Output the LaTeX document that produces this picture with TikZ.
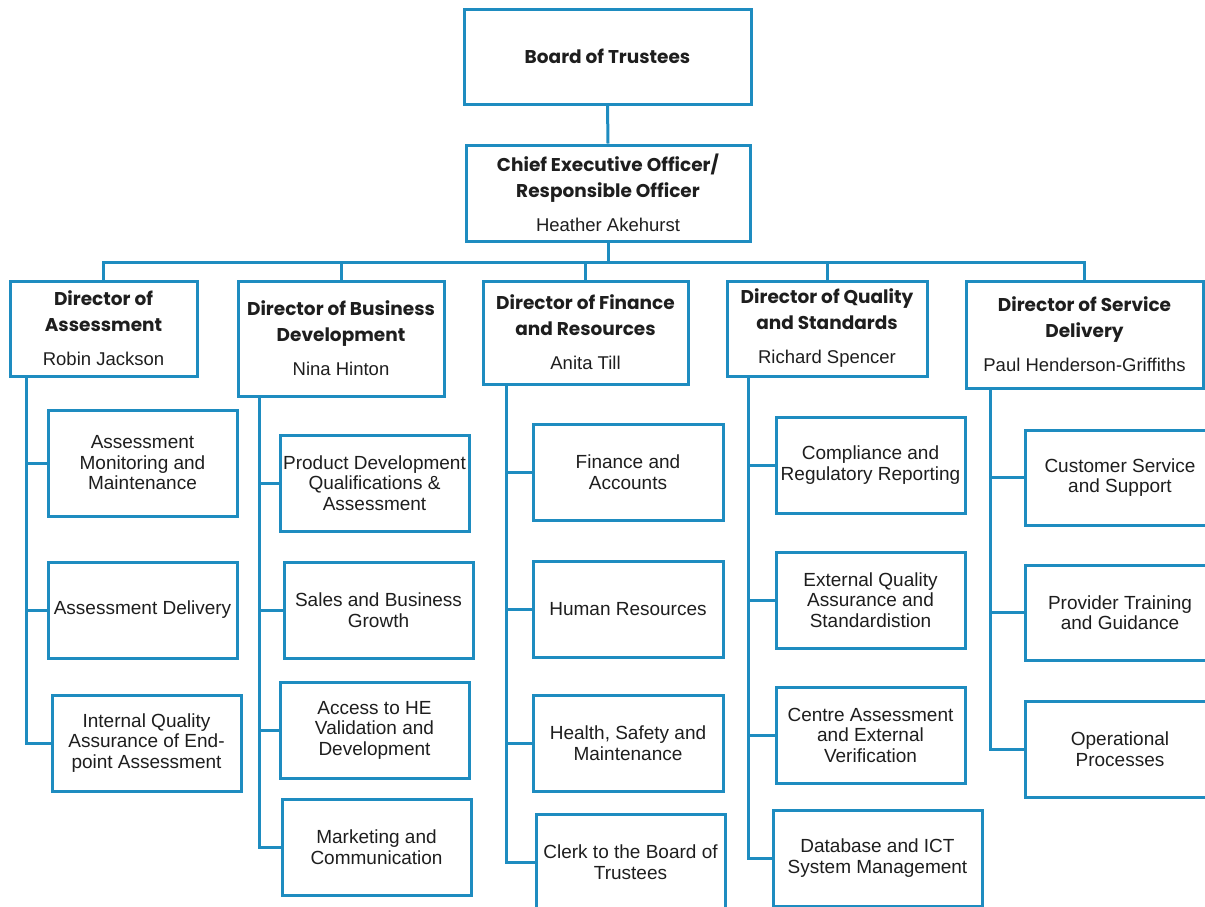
\documentclass[tikz,border=0pt]{standalone}
\usepackage{fontspec}
\setmainfont{Liberation Sans}
\newfontfamily\popfont{Poppins}
\definecolor{bl}{RGB}{30,140,192}
\definecolor{tx}{RGB}{30,30,30}
\newcommand\pname[1]{{\normalfont\fontsize{18.5}{26}\selectfont #1}}
\begin{document}
\begin{tikzpicture}[x=1pt,y=-1pt,
  box/.style={draw=bl, line width=3pt, fill=white, align=center, text=tx, inner sep=0pt},
  hd/.style={box, font=\popfont\bfseries\fontsize{18.5}{26}\selectfont},
  ch/.style={box, font=\fontsize{19}{20.5}\selectfont},
  ln/.style={draw=bl, line width=3pt}]
\useasboundingbox (0,0) rectangle (1205,906);
\clip (0,0) rectangle (1205,906);
% top
\node[hd, minimum width=287, minimum height=95] (board) at (607.5,56.5) {Board of Trustees};
\node[hd, minimum width=284, minimum height=96] (ceo) at (608,193) {Chief Executive Officer/\\Responsible Officer\\[8pt]\pname{Heather Akehurst}};
% directors
\node[hd, minimum width=187, minimum height=95] (dA) at (103.5,328.5) {Director of\\Assessment\\[8pt]\pname{Robin Jackson}};
\node[hd, minimum width=206, minimum height=115] (dB) at (341,338.5) {Director of Business\\Development\\[8pt]\pname{Nina Hinton}};
\node[hd, minimum width=205, minimum height=103] (dF) at (585.5,332.5) {Director of Finance\\and Resources\\[8pt]\pname{Anita Till}};
\node[hd, minimum width=200, minimum height=95] (dQ) at (827,328.5) {Director of Quality\\and Standards\\[8pt]\pname{Richard Spencer}};
\node[hd, minimum width=237, minimum height=107] (dS) at (1084.5,334.5) {Director of Service\\Delivery\\[8pt]\pname{Paul Henderson-Griffiths}};
% children: assessment
\node[ch, minimum width=189, minimum height=106] (a1) at (142.5,463) {Assessment\\Monitoring and\\Maintenance};
\node[ch, minimum width=189, minimum height=96] (a2) at (142.5,610) {Assessment Delivery};
\node[ch, minimum width=189, minimum height=96] (a3) at (146.5,743) {Internal Quality\\Assurance of End-\\point Assessment};
% business development
\node[ch, minimum width=189, minimum height=96] (b1) at (374.5,483) {Product Development\\Qualifications \&\\Assessment};
\node[ch, minimum width=189, minimum height=96] (b2) at (378.5,610) {Sales and Business\\Growth};
\node[ch, minimum width=189, minimum height=96] (b3) at (374.5,730) {Access to HE\\Validation and\\Development};
\node[ch, minimum width=189, minimum height=96] (b4) at (376.5,847) {Marketing and\\Communication};
% finance
\node[ch, minimum width=190, minimum height=96] (f1) at (628,472) {Finance and\\Accounts};
\node[ch, minimum width=190, minimum height=96] (f2) at (628,609) {Human Resources};
\node[ch, minimum width=190, minimum height=96] (f3) at (628,743) {Health, Safety and\\Maintenance};
\node[ch, minimum width=189, minimum height=96] (f4) at (630.5,862) {Clerk to the Board of\\Trustees};
% quality
\node[ch, minimum width=189, minimum height=96] (q1) at (870.5,465) {Compliance and\\Regulatory Reporting};
\node[ch, minimum width=189, minimum height=96] (q2) at (870.5,600) {External Quality\\Assurance and\\Standardistion};
\node[ch, minimum width=189, minimum height=96] (q3) at (870.5,735) {Centre Assessment\\and External\\Verification};
\node[ch, minimum width=209, minimum height=96] (q4) at (877.5,858) {Database and ICT\\System Management};
% service
\node[ch, minimum width=190, minimum height=95] (s1) at (1120,477.5) {Customer Service\\and Support};
\node[ch, minimum width=190, minimum height=95] (s2) at (1120,612.5) {Provider Training\\and Guidance};
\node[ch, minimum width=190, minimum height=96] (s3) at (1120,749) {Operational\\Processes};
% connectors top
\coordinate (bus) at (608,262);
\draw[ln] (board.south) -- (ceo.north);
\draw[ln] (ceo.south) -- (bus);
\foreach \d in {dA,dB,dF,dQ,dS} {\draw[ln] (\d.north) |- (bus);}
% trunks
\coordinate (tA) at (26,376);
\coordinate (tB) at (259,396);
\coordinate (tF) at (506,384);
\coordinate (tQ) at (748,376);
\coordinate (tS) at (990,388);
\draw[ln] (tA) |- (a3.west);
\foreach \c in {a1,a2} {\draw[ln] (tA |- \c.west) -- (\c.west);}
\draw[ln] (tB) |- (b4.west);
\foreach \c in {b1,b2,b3} {\draw[ln] (tB |- \c.west) -- (\c.west);}
\draw[ln] (tF) |- (f4.west);
\foreach \c in {f1,f2,f3} {\draw[ln] (tF |- \c.west) -- (\c.west);}
\draw[ln] (tQ) |- (q4.west);
\foreach \c in {q1,q2,q3} {\draw[ln] (tQ |- \c.west) -- (\c.west);}
\draw[ln] (tS) |- (s3.west);
\foreach \c in {s1,s2} {\draw[ln] (tS |- \c.west) -- (\c.west);}
\end{tikzpicture}
\end{document}
